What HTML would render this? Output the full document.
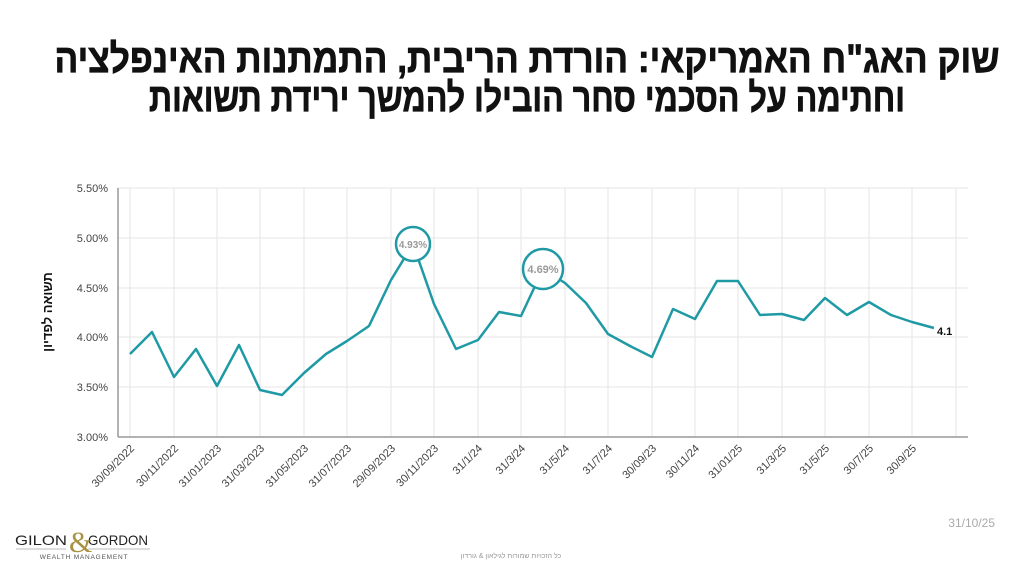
<!DOCTYPE html>
<html><head><meta charset="utf-8"><style>body{margin:0;background:#fff}svg{display:block}</style></head><body>
<svg width="1024" height="576" viewBox="0 0 1024 576" xmlns="http://www.w3.org/2000/svg" font-family="Liberation Sans, DejaVu Sans, sans-serif">
<rect width="1024" height="576" fill="#fff"/>
<g font-weight="bold" font-size="40" fill="#111" text-anchor="middle" direction="rtl" stroke="#111" stroke-width="0.8">
<text x="527" y="72" textLength="945" lengthAdjust="spacingAndGlyphs">שוק האג"ח האמריקאי: הורדת הריבית, התמתנות האינפלציה</text>
<text x="527" y="111" textLength="756" lengthAdjust="spacingAndGlyphs">וחתימה על הסכמי סחר הובילו להמשך ירידת תשואות</text>
</g>
<g stroke="#e6e6e6" stroke-width="1">
<line x1="118" y1="188" x2="968" y2="188"/><line x1="118" y1="238" x2="968" y2="238"/><line x1="118" y1="288" x2="968" y2="288"/><line x1="118" y1="337" x2="968" y2="337"/><line x1="118" y1="387" x2="968" y2="387"/>
<line x1="130" y1="188" x2="130" y2="437"/><line x1="174" y1="188" x2="174" y2="437"/><line x1="217" y1="188" x2="217" y2="437"/><line x1="260" y1="188" x2="260" y2="437"/><line x1="304" y1="188" x2="304" y2="437"/><line x1="347" y1="188" x2="347" y2="437"/><line x1="391" y1="188" x2="391" y2="437"/><line x1="434" y1="188" x2="434" y2="437"/><line x1="478" y1="188" x2="478" y2="437"/><line x1="521" y1="188" x2="521" y2="437"/><line x1="565" y1="188" x2="565" y2="437"/><line x1="608" y1="188" x2="608" y2="437"/><line x1="652" y1="188" x2="652" y2="437"/><line x1="695" y1="188" x2="695" y2="437"/><line x1="738" y1="188" x2="738" y2="437"/><line x1="782" y1="188" x2="782" y2="437"/><line x1="825" y1="188" x2="825" y2="437"/><line x1="869" y1="188" x2="869" y2="437"/><line x1="912" y1="188" x2="912" y2="437"/><line x1="956" y1="188" x2="956" y2="437"/>
</g>
<g stroke="#999" stroke-width="1.5"><line x1="118" y1="188" x2="118" y2="437"/><line x1="118" y1="437" x2="968" y2="437"/></g>
<g font-size="11" fill="#444" text-anchor="end">
<text x="108" y="192">5.50%</text><text x="108" y="242">5.00%</text><text x="108" y="292">4.50%</text><text x="108" y="341">4.00%</text><text x="108" y="391">3.50%</text><text x="108" y="441">3.00%</text>
</g>
<text transform="translate(52,312) rotate(-90)" font-size="13" font-weight="bold" text-anchor="middle" fill="#111" direction="rtl">תשואה לפדיון</text>
<g font-size="11" fill="#444" text-anchor="end">
<text transform="translate(135,449) rotate(-45)">30/09/2022</text>
<text transform="translate(179,449) rotate(-45)">30/11/2022</text>
<text transform="translate(222,449) rotate(-45)">31/01/2023</text>
<text transform="translate(265,449) rotate(-45)">31/03/2023</text>
<text transform="translate(309,449) rotate(-45)">31/05/2023</text>
<text transform="translate(352,449) rotate(-45)">31/07/2023</text>
<text transform="translate(396,449) rotate(-45)">29/09/2023</text>
<text transform="translate(439,449) rotate(-45)">30/11/2023</text>
<text transform="translate(483,449) rotate(-45)">31/1/24</text>
<text transform="translate(526,449) rotate(-45)">31/3/24</text>
<text transform="translate(570,449) rotate(-45)">31/5/24</text>
<text transform="translate(613,449) rotate(-45)">31/7/24</text>
<text transform="translate(657,449) rotate(-45)">30/09/23</text>
<text transform="translate(700,449) rotate(-45)">30/11/24</text>
<text transform="translate(743,449) rotate(-45)">31/01/25</text>
<text transform="translate(787,449) rotate(-45)">31/3/25</text>
<text transform="translate(830,449) rotate(-45)">31/5/25</text>
<text transform="translate(874,449) rotate(-45)">30/7/25</text>
<text transform="translate(917,449) rotate(-45)">30/9/25</text>
</g>
<polyline fill="none" stroke="#1f9aa5" stroke-width="2.5" stroke-linejoin="round" points="130,354 152,332 174,377 196,349 217,386 239,345 260,390 282,395 304,373 326,354 347,341 369,326 391,280 413,244 434,304 456,349 478,340 499,312 521,316 543,269 565,283 586,303 608,334 630,346 652,357 673,309 695,319 717,281 738,281 760,315 782,314 804,320 825,298 847,315 869,302 891,315 912,322 934,328"/>
<circle cx="413" cy="244" r="17" fill="#fff" stroke="#1f9aa5" stroke-width="2.5"/>
<text x="413" y="248" font-size="10" font-weight="bold" fill="#999" text-anchor="middle">4.93%</text>
<circle cx="543" cy="269" r="20" fill="#fff" stroke="#1f9aa5" stroke-width="2.5"/>
<text x="543" y="273" font-size="11" font-weight="bold" fill="#999" text-anchor="middle">4.69%</text>
<text x="937" y="335" font-size="11" font-weight="bold" fill="#111">4.1</text>
<g font-size="14" fill="#222">
<text x="15" y="545" textLength="52" lengthAdjust="spacingAndGlyphs">GILON</text><text x="88" y="545" textLength="60" lengthAdjust="spacingAndGlyphs">GORDON</text></g>
<text x="69" y="552" font-size="30" fill="#a8913f" font-family="Liberation Serif, serif">&amp;</text>
<line x1="16" y1="549" x2="66" y2="549" stroke="#bbb" stroke-width="1"/>
<line x1="88" y1="549" x2="150" y2="549" stroke="#bbb" stroke-width="1"/>
<text x="84" y="559" font-size="6.5" fill="#555" text-anchor="middle" letter-spacing="0.8">WEALTH MANAGEMENT</text>
<text x="511" y="558" font-size="7" fill="#999" text-anchor="middle" direction="rtl">כל הזכויות שמורות לגילאון &amp; גורדון</text>
<text x="995" y="527" font-size="12" fill="#aaa" text-anchor="end">31/10/25</text>
</svg>
</body></html>
